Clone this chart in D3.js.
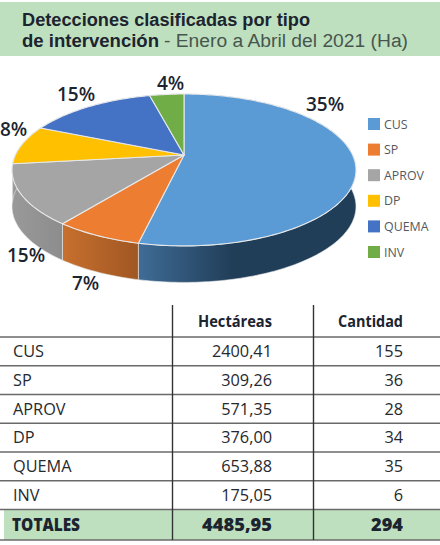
<!DOCTYPE html>
<html>
<head>
<meta charset="utf-8">
<script src="https://cdn.jsdelivr.net/npm/d3@7"></script>
<style>
  html, body { margin: 0; padding: 0; background: #fff; }
  svg { display: block; }
  text { font-family: "Open Sans", sans-serif; }
  .title { font-family: "Liberation Sans", sans-serif; }
</style>
</head>
<body>
<svg id="chart" width="440" height="545"></svg>
<script>
// data
const categories = ["CUS", "SP", "APROV", "DP", "QUEMA", "INV"];
const hectareas = [2400.41, 309.26, 571.35, 376.00, 653.88, 175.05];
const hectareasText = ["2400,41", "309,26", "571,35", "376,00", "653,88", "175,05"];
const cantidad = [155, 36, 28, 34, 35, 6];
const percentLabels = ["35%", "7%", "15%", "8%", "15%", "4%"];
const totalHectareas = "4485,95";
const totalCantidad = "294";

const colors = ["#5b9bd5", "#ed7d31", "#a5a5a5", "#ffc000", "#4472c4", "#70ad47"];

// where each percent label sits (left edge, baseline), same order as categories
const labelPos = [[306, 111], [72, 290], [7, 262], [0, 136], [57, 101], [157, 90]];

const svg = d3.select("#chart");
const defs = svg.append("defs");
const INK = "#1c2430";

// title band
svg.append("rect").attr("x", 0).attr("y", 2).attr("width", 440).attr("height", 54).attr("fill", "#bfe0bf");
svg.append("text").attr("class", "title").attr("x", 22).attr("y", 26)
    .attr("font-size", 18).attr("font-weight", 700).attr("fill", INK)
    .attr("textLength", 288).attr("lengthAdjust", "spacingAndGlyphs")
    .text("Detecciones clasificadas por tipo");
svg.append("text").attr("class", "title").attr("x", 22).attr("y", 47)
    .attr("font-size", 18).attr("font-weight", 700).attr("fill", INK)
    .attr("textLength", 137).attr("lengthAdjust", "spacingAndGlyphs")
    .text("de intervención");
svg.append("text").attr("class", "title").attr("x", 164).attr("y", 47)
    .attr("font-size", 18).attr("fill", "#46564f")
    .attr("textLength", 244).attr("lengthAdjust", "spacingAndGlyphs")
    .text("- Enero a Abril del 2021 (Ha)");

// pie with a perspective tilt
const pie = d3.pie().sort(null).value(d => d);
const arcs = pie(hectareas);

const apexX = 184, apexY = 155, radX = 168.6, radY = 73, tilt = 0.197, depth = 36.5;

function project(a, dy) {
    const sx = Math.sin(a), cz = Math.cos(a), w = 1 + tilt * cz;
    return [apexX + radX * sx / w, apexY - radY * cz / w + (dy || 0)];
}

function rim(a0, a1) {
    const n = Math.max(2, Math.ceil((a1 - a0) / 0.02));
    return d3.range(n + 1).map(i => a0 + (a1 - a0) * i / n);
}

const line = d3.line();

// side shading
const sideStops = [
    ["#3f6b95", "#213e58"],
    ["#c66f2e", "#9f5622"],
    ["#999999", "#8c8c8c"],
    ["#999999", "#999999"],
    ["#999999", "#999999"],
    ["#999999", "#999999"]
];
const sideRange = [[140, 232], [65, 140], [13, 65], [13, 40], [40, 150], [150, 184]];

sideStops.forEach((s, i) => {
    const g = defs.append("linearGradient").attr("id", "side" + i)
        .attr("gradientUnits", "userSpaceOnUse")
        .attr("x1", sideRange[i][0]).attr("x2", sideRange[i][1]).attr("y1", 0).attr("y2", 0);
    g.append("stop").attr("offset", 0).attr("stop-color", s[0]);
    g.append("stop").attr("offset", 1).attr("stop-color", s[1]);
});

// walls first, the top faces hide whatever is behind
svg.append("g").selectAll("path")
    .data(arcs)
    .enter()
    .append("path")
    .attr("d", d => {
        const angles = rim(d.startAngle, d.endAngle);
        const top = angles.map(a => project(a));
        const bottom = angles.slice().reverse().map(a => project(a, depth));
        return line(top.concat(bottom)) + "Z";
    })
    .attr("fill", (d, i) => "url(#side" + i + ")")
    .attr("stroke", "#e6e8ea")
    .attr("stroke-width", 0.6);

svg.append("g").selectAll("path")
    .data(arcs)
    .enter()
    .append("path")
    .attr("d", d => {
        const pts = rim(d.startAngle, d.endAngle).map(a => project(a));
        return line([[apexX, apexY]].concat(pts)) + "Z";
    })
    .attr("fill", (d, i) => colors[i])
    .attr("stroke", "#e6e8ea")
    .attr("stroke-width", 1.1)
    .attr("stroke-linejoin", "round");

// percent labels
svg.append("g").selectAll("text")
    .data(percentLabels)
    .enter()
    .append("text")
    .attr("x", (d, i) => labelPos[i][0])
    .attr("y", (d, i) => labelPos[i][1])
    .attr("font-size", 19)
    .attr("font-weight", 600)
    .attr("fill", INK)
    .text(d => d);

// legend
const legendY = d3.scalePoint().domain(categories).range([124, 252]);
const legend = svg.append("g").selectAll("g")
    .data(categories)
    .enter()
    .append("g")
    .attr("transform", d => "translate(368," + legendY(d) + ")");
legend.append("rect")
    .attr("x", 0).attr("y", -6).attr("width", 12).attr("height", 12)
    .attr("fill", (d, i) => colors[i]);
legend.append("text")
    .attr("x", 16).attr("y", 4.5)
    .attr("font-size", 12.4).attr("fill", "#55595e")
    .text(d => d);

// table
const rowY = d3.scaleBand().domain(categories).range([337, 509.5]);
const colHa = 272, colCant = 403;
const table = svg.append("g");

table.append("rect").attr("x", 4).attr("y", 510).attr("width", 436).attr("height", 30).attr("fill", "#bfe0bf");

const ruleY = categories.map(c => rowY(c)).concat([509.5, 540]);
table.selectAll("line.rule")
    .data(ruleY)
    .enter()
    .append("line")
    .attr("class", "rule")
    .attr("x1", 0).attr("x2", 440)
    .attr("y1", d => d).attr("y2", d => d)
    .attr("stroke", "#6a6a6a").attr("stroke-width", 1.3);

table.selectAll("line.col")
    .data([172.5, 313.5])
    .enter()
    .append("line")
    .attr("class", "col")
    .attr("x1", d => d).attr("x2", d => d)
    .attr("y1", 305).attr("y2", 540)
    .attr("stroke", "#333").attr("stroke-width", 1.4);

table.append("text").attr("x", colHa).attr("y", 327).attr("text-anchor", "end")
    .attr("font-size", 16.3).attr("font-weight", 700).attr("fill", INK)
    .attr("textLength", 74).attr("lengthAdjust", "spacingAndGlyphs").text("Hectáreas");
table.append("text").attr("x", colCant).attr("y", 327).attr("text-anchor", "end")
    .attr("font-size", 16.3).attr("font-weight", 700).attr("fill", INK)
    .attr("textLength", 65).attr("lengthAdjust", "spacingAndGlyphs").text("Cantidad");

const base = d => rowY(d) + 20;
const rowColor = "#26292e";

table.selectAll("text.name").data(categories).enter().append("text")
    .attr("class", "name")
    .attr("x", 13).attr("y", base)
    .attr("font-size", 16.3).attr("fill", rowColor)
    .text(d => d);
table.selectAll("text.ha").data(categories).enter().append("text")
    .attr("class", "ha")
    .attr("x", colHa).attr("y", base).attr("text-anchor", "end")
    .attr("font-size", 16.3).attr("fill", rowColor)
    .text((d, i) => hectareasText[i]);
table.selectAll("text.cant").data(categories).enter().append("text")
    .attr("class", "cant")
    .attr("x", colCant).attr("y", base).attr("text-anchor", "end")
    .attr("font-size", 16.3).attr("fill", rowColor)
    .text((d, i) => cantidad[i]);

const totalRow = table.append("g").attr("font-size", 18).attr("font-weight", 800).attr("fill", INK);
totalRow.append("text").attr("x", 12).attr("y", 531)
    .attr("textLength", 68).attr("lengthAdjust", "spacingAndGlyphs").text("TOTALES");
totalRow.append("text").attr("x", colHa).attr("y", 531).attr("text-anchor", "end")
    .attr("textLength", 70).attr("lengthAdjust", "spacingAndGlyphs").text(totalHectareas);
totalRow.append("text").attr("x", colCant).attr("y", 531).attr("text-anchor", "end")
    .attr("textLength", 32).attr("lengthAdjust", "spacingAndGlyphs").text(totalCantidad);
</script>
</body>
</html>
